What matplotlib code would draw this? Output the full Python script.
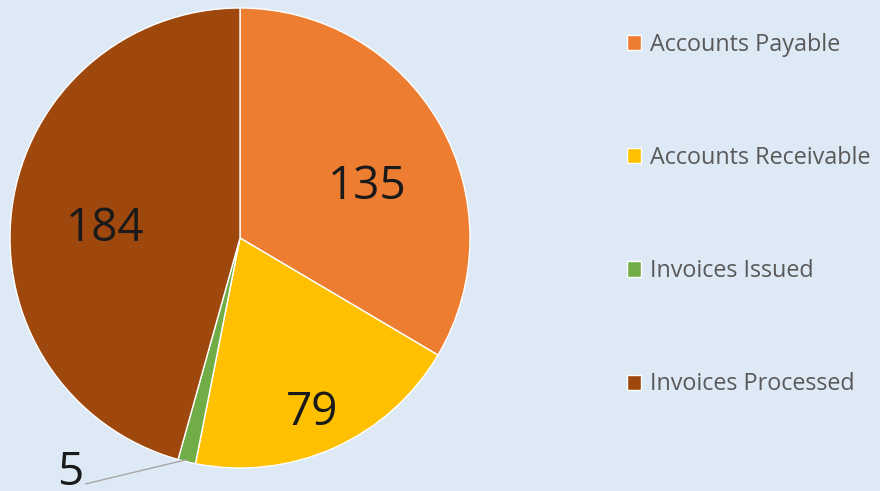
import matplotlib
matplotlib.use("Agg")
import matplotlib.pyplot as plt
import numpy as np

categories = ["Accounts Payable", "Accounts Receivable", "Invoices Issued", "Invoices Processed"]
values = [135, 79, 5, 184]

colors = ["#ED7D31", "#FFC000", "#70AD47", "#9E480E"]
label_r = [0.60, 0.81, None, 0.59]        # radial position of value labels
label_dang = [-6.5, -1.5, 0.0, 2.5]        # angular nudge (deg) of value labels

bg = "#DDE9F5"
plt.rcParams['font.family'] = ['Open Sans', 'DejaVu Sans']

fig = plt.figure(figsize=(8.8, 4.91), dpi=100, facecolor=bg)
W, H = 880, 491
cx, cy, R = 240, 238, 230
ax = fig.add_axes([(cx - R) / W, (H - cy - R) / H, 2 * R / W, 2 * R / H])
ax.set_facecolor(bg)

wedges, _ = ax.pie(values, colors=colors, startangle=90, counterclock=False,
                   radius=1.0, wedgeprops=dict(edgecolor="white", linewidth=1.0))
ax.set_xlim(-1, 1)
ax.set_ylim(-1, 1)
ax.set_aspect("equal")
ax.axis("off")

for w, v, r, da in zip(wedges, values, label_r, label_dang):
    mid = np.deg2rad((w.theta1 + w.theta2) / 2 + da)
    if r is not None:
        ax.text(r * np.cos(mid), r * np.sin(mid) - 0.015, str(v), ha="center", va="center",
                fontsize=33, color="#1a1a1a")
    else:
        ex, ey = 0.99 * np.cos(mid), 0.99 * np.sin(mid)
        tx, ty = -0.74, -1.02
        ax.annotate(str(v), xy=(ex, ey), xytext=(tx, ty), ha="center", va="center",
                    fontsize=33, color="#1a1a1a", annotation_clip=False,
                    arrowprops=dict(arrowstyle="-", color="#A6A6A6", lw=1.0,
                                    shrinkA=0, shrinkB=0, relpos=(0.85, 0.22)))

leg = fig.legend(wedges, categories, loc="upper left", bbox_to_anchor=(606 / W, 1 - 12 / H),
                 frameon=False, fontsize=16.8, labelspacing=3.82, handlelength=0.62,
                 handleheight=0.62, handletextpad=0.35, labelcolor="#595959")

fig.savefig("out.png", dpi=100, facecolor=bg)
